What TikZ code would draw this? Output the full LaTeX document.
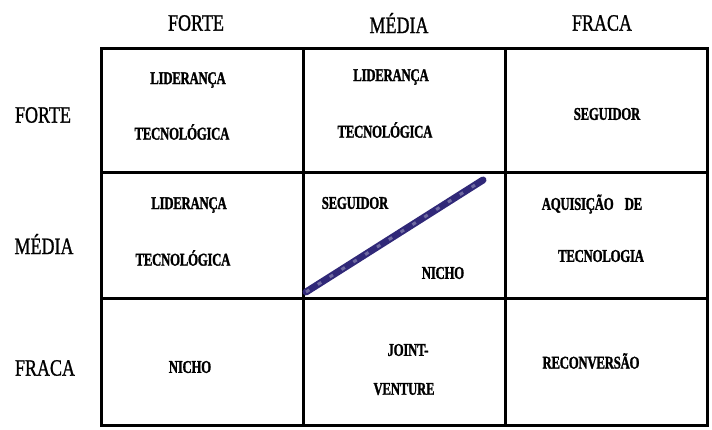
\documentclass[tikz,border=0pt]{standalone}
\usepackage{graphicx}
\usepackage{fontspec}
\setmainfont{Liberation Serif}
\newfontfamily\cellfont{Liberation Serif Bold}[FakeBold=1.6, LetterSpace=-2]
\newfontfamily\hdrfont{Liberation Serif}[FakeBold=1.2]
\newcommand{\tallc}[1]{\scalebox{1}[1.4]{#1}}
\newcommand{\tallh}[1]{\scalebox{1}[1.3]{#1}}
\definecolor{penblue}{RGB}{48,40,120}
\begin{document}
\begin{tikzpicture}[x=1pt,y=-1pt,
  hdr/.style={font=\hdrfont\fontsize{18}{20}\selectfont, inner sep=0pt},
  cell/.style={font=\cellfont\fontsize{12.8}{14}\selectfont, inner sep=0pt},
  gridline/.style={line width=3pt, line cap=rect}]
\useasboundingbox (0,0) rectangle (712,429);
\fill[white] (0,0) rectangle (712,429);
% grid
\draw[gridline] (101,48) rectangle (707,425);
\draw[gridline] (303,48) -- (303,425);
\draw[gridline] (505,48) -- (505,425);
\draw[gridline] (101,172) -- (707,172);
\draw[gridline] (101,298) -- (707,298);
% headers
\node[hdr] (hF) at (196,23) {\tallh{FORTE}};
\node[hdr] (hM) at (399,23) {\tallh{MÉDIA}};
\node[hdr] (hW) at (602,23) {\tallh{FRACA}};
\node[hdr] (rF) at (43,115) {\tallh{FORTE}};
\node[hdr] (rM) at (44,244) {\tallh{MÉDIA}};
\node[hdr] (rW) at (45,368) {\tallh{FRACA}};
% row 1
\node[cell] (a1) at (188,80) {\tallc{LIDERANÇA}};
\node[cell] (a2) at (182,132) {\tallc{TECNOLÓGICA}};
\node[cell] (b1) at (391,77) {\tallc{LIDERANÇA}};
\node[cell] (b2) at (385,130) {\tallc{TECNOLÓGICA}};
\node[cell] (c1) at (607,114) {\tallc{SEGUIDOR}};
% row 2
\node[cell] (d1) at (189,205) {\tallc{LIDERANÇA}};
\node[cell] (d2) at (183,258) {\tallc{TECNOLÓGICA}};
\node[cell] (e1) at (355,203) {\tallc{SEGUIDOR}};
\node[cell] (e2) at (443,273) {\tallc{NICHO}};
\node[cell] (f1) at (592,204) {\tallc{AQUISIÇÃO\hspace{11pt}DE}};
\node[cell] (f2) at (601,256) {\tallc{TECNOLOGIA}};
% row 3
\node[cell] (g1) at (190,367) {\tallc{NICHO}};
\node[cell] (h1) at (408,350) {\tallc{JOINT-}};
\node[cell] (h2) at (404,389) {\tallc{VENTURE}};
\node[cell] (i1) at (591,361) {\tallc{RECONVERSÃO}};
% diagonal pen stroke
\coordinate (s0) at (306,292);
\coordinate (s1) at (483,180);
\draw[penblue, line width=7pt, line cap=round] (s0) -- (s1);
\draw[penblue!70!white, line width=3pt, dash pattern=on 4pt off 10pt] (s0) -- (s1);
\end{tikzpicture}
\end{document}
